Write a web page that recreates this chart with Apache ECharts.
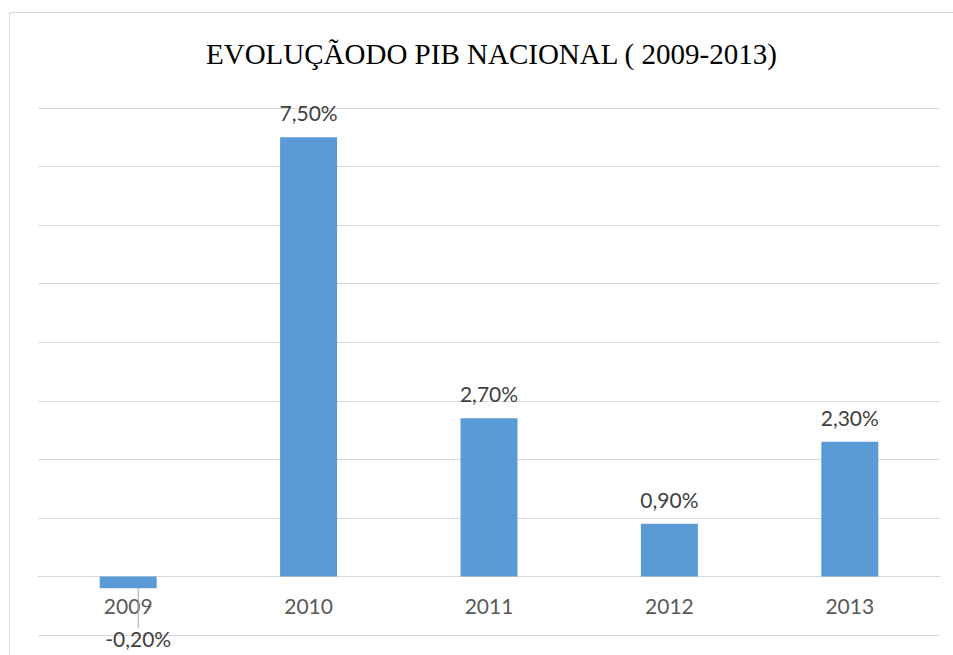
<!DOCTYPE html>
<html>
<head>
<meta charset="utf-8">
<script src="https://cdn.jsdelivr.net/npm/echarts@6/dist/echarts.min.js"></script>
<style>
  html, body { margin: 0; padding: 0; background: #fff; }
  #main { width: 953px; height: 655px; }
</style>
</head>
<body>
<div id="main"></div>
<script>
var chartDom = document.getElementById('main');
var myChart = echarts.init(chartDom, null, { renderer: 'svg' });

// dados do gráfico
var anos = ['2009', '2010', '2011', '2012', '2013'];
var pib = [-0.2, 7.5, 2.7, 0.9, 2.3];

var labelFont = 'Lato, "Open Sans", sans-serif';

var barData = pib.map(function (v) {
    if (v < 0) {
        // o rótulo negativo fica abaixo dos anos, com linha de ligação
        return {
            value: v,
            label: { position: 'bottom', distance: 4 },
            labelLine: { show: true, lineStyle: { color: '#a6a6a6', width: 1 } }
        };
    }
    return v;
});

var option = {
    backgroundColor: '#fff',
    animation: false,
    title: {
        text: 'EVOLUÇÃODO PIB NACIONAL ( 2009-2013)',
        left: 201,
        top: 34,
        textStyle: {
            fontFamily: '"Liberation Serif", "DejaVu Serif", serif',
            fontWeight: 'normal',
            fontSize: 29,
            color: '#000'
        }
    },
    graphic: [{
        type: 'rect',
        shape: { x: 9.5, y: 12.5, width: 1000, height: 700 },
        style: { fill: 'none', stroke: '#d9d9d9', lineWidth: 1 },
        silent: true
    }],
    grid: { left: 38, right: 13, top: 108, bottom: 20, outerBoundsMode: 'none', containLabel: false },
    xAxis: {
        type: 'category',
        data: anos,
        // eixo na linha do zero (uma unidade acima da base)
        offset: -59,
        axisTick: { show: false },
        axisLine: { onZero: false, lineStyle: { color: '#d9d9d9', width: 1 } },
        axisLabel: {
            margin: 19,
            fontFamily: labelFont,
            fontSize: 21,
            color: '#595959'
        }
    },
    yAxis: {
        type: 'value',
        min: -1,
        max: 8,
        interval: 1,
        axisLabel: { show: false },
        axisLine: { show: false },
        axisTick: { show: false },
        splitLine: { lineStyle: { color: '#d9d9d9', width: 1 } }
    },
    series: [{
        type: 'bar',
        data: barData,
        barWidth: 57,
        itemStyle: { color: '#5b9bd5' },
        label: {
            show: true,
            position: 'top',
            distance: 14,
            fontFamily: labelFont,
            fontSize: 21,
            color: '#404040',
            formatter: function (p) {
                return p.value.toFixed(2).replace('.', ',') + '%';
            }
        },
        labelLayout: function (p) {
            if (p.dataIndex === 0) {
                return { dx: 10, dy: 36 };
            }
            return {};
        }
    }]
};

option && myChart.setOption(option);
</script>
</body>
</html>
